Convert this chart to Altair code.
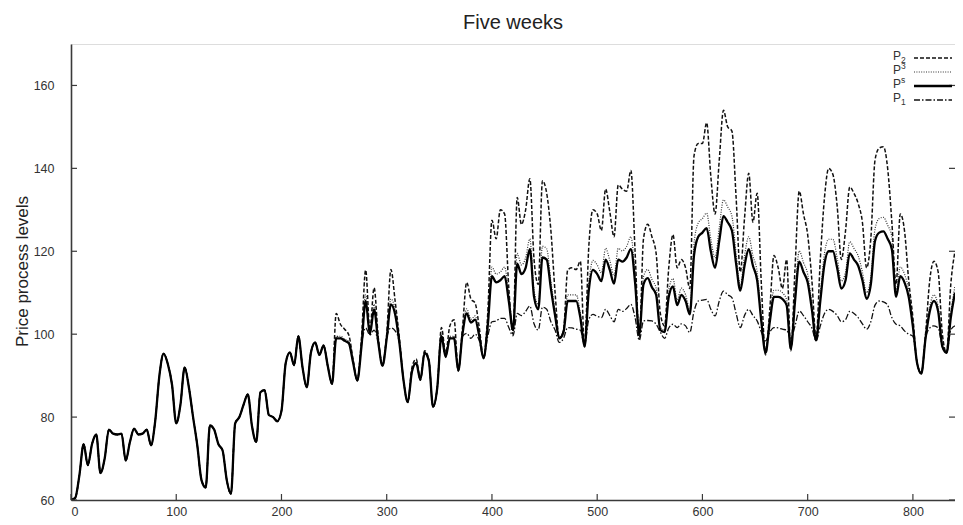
import altair as alt
import pandas as pd

# ---------------- data ----------------
# hourly index sampled every 4 hours, 0 .. 840 (five weeks)
hours = list(range(0, 841, 4))

# t = 0 .. 248 : all four processes coincide
shared_early = [
    60, 60.5, 66, 73.5, 68.4, 73.5, 75.8, 66.5, 70, 77,
    76, 75.8, 76, 69.5, 74, 77.2, 75.8, 76, 77, 73.2,
    79, 90, 95.3, 92.8, 87.8, 78.5, 83, 92, 87.2, 80,
    73.2, 64.8, 63, 78, 77, 73.5, 72, 64.8, 61.5, 78.5,
    80, 83, 85.5, 77.8, 74, 86, 86.5, 80.5, 80, 79,
    81.5, 93, 95.6, 92.5, 99.5, 92, 87.2, 95.6, 98, 95,
    97.3, 92.3, 88,
]

# t = 252 .. 840
ps_late = [
    99, 99, 98.4, 97.8, 93.2, 88.8, 97, 108, 100, 106,
    98, 92.4, 99, 107.2, 104.8, 98, 88.8, 83.6, 91, 93,
    89, 95.5, 93.6, 82.5, 87, 99.5, 94.5, 99, 99, 91.2,
    100, 105, 102.8, 103.5, 99.5, 94.2, 102, 114, 112.5, 113,
    114, 108, 101, 117, 114.5, 116, 120.5, 109, 106, 118.5,
    118, 111, 104.5, 99, 100.5, 108, 108, 108, 104, 97,
    110.5, 115.5, 114.5, 112.8, 118, 115.5, 112.2, 118, 117.5, 118.5,
    120.5, 112.5, 100, 112, 113.5, 111.3, 109.5, 101, 100.5, 109,
    111.5, 107, 109.5, 108, 104.8, 119, 123.5, 124.5, 125.6, 120,
    116, 122.5, 128.5, 127, 125, 117, 110.5, 116.5, 120.5, 116.5,
    113, 103, 95.5, 103, 109, 109, 108.5, 107, 96.5, 108,
    117.5, 115, 112.5, 106, 98.5, 108, 117, 120, 120, 116,
    111, 113, 119.5, 118, 116.5, 113, 108.5, 112, 122.5, 124.5,
    124.8, 123, 120.5, 109, 114, 112.5, 109, 101.8, 93, 90.5,
    99, 105.5, 108, 105.5, 97, 95.5, 104, 110,
]

p2_late = [
    105, 102.4, 101.2, 99.8, 94, 88.8, 99, 115.5, 101, 111.2,
    99.2, 92.4, 100, 115.6, 108, 99.2, 88.8, 83.6, 92, 94,
    89, 96, 94, 82.5, 87, 101.6, 95.5, 102, 103.5, 91.2,
    101.5, 112.5, 108.5, 107.5, 101.5, 94.2, 105, 127.5, 123, 130,
    129, 111.2, 100, 133, 126.5, 130, 137.5, 118, 112, 137,
    134, 125, 110, 99, 101, 115.5, 116, 115.6, 117.6, 97,
    121, 130, 129, 125, 135, 129.5, 123.5, 136, 135, 134.5,
    139.5, 120, 99, 123, 126.5, 123.5, 119.5, 105, 102, 116,
    124, 116, 118, 116, 111, 143, 146, 146, 151, 138,
    129, 142, 154, 150, 149, 133, 115, 128, 138.8, 127,
    134, 112, 95, 106, 119, 116, 111, 118, 96, 116,
    134.5, 129, 124, 113, 99, 118, 133, 140, 138.5, 131,
    118, 125, 135.5, 134, 131.5, 127, 116, 123, 142, 144.9,
    145.2, 140, 127, 112, 129, 125, 113, 104, 93, 90.5,
    100, 113, 117.6, 115, 100, 95.5, 112, 120,
]

p3_late = [
    99.5, 99.5, 98.8, 98.2, 93.4, 88.8, 97.3, 109.5, 100.5, 107.2,
    98.3, 92.5, 99.3, 108.5, 105.9, 98.3, 88.8, 83.6, 91.2, 93.2,
    89, 95.7, 93.8, 82.5, 87, 100, 94.7, 99.5, 99.5, 91.2,
    100.5, 106.1, 103.6, 104.4, 100, 94.3, 102.7, 116.2, 114.5, 115,
    116.2, 109.5, 101.6, 119.5, 116.7, 118.4, 123, 110.6, 107.2, 121.2,
    120.6, 112.8, 105.5, 99.2, 101, 109.5, 109.5, 109.5, 105, 97.2,
    112, 117.8, 116.7, 114.8, 120.7, 117.8, 114.1, 120.7, 120.1, 121.2,
    123.5, 114.5, 100.4, 113.9, 115.6, 113.2, 111.1, 101.6, 101, 110.6,
    113.4, 108.3, 111.1, 109.5, 105.9, 121.8, 126.8, 127.9, 129.2, 122.9,
    118.4, 125.7, 132.4, 130.7, 128.5, 119.5, 111.7, 118.9, 123.5, 118.9,
    115, 103.9, 95.6, 103.9, 110.6, 110.6, 110, 108.3, 96.6, 109.5,
    120.1, 117.3, 114.5, 107.2, 98.7, 109.5, 119.5, 122.9, 122.9, 118.4,
    112.8, 115, 122.3, 120.7, 118.9, 115, 110, 113.9, 125.4, 127.9,
    128.2, 126.3, 123.5, 110.6, 116.2, 114.5, 110.6, 102.5, 93, 90.5,
    99.2, 106.6, 109.5, 106.6, 97.2, 95.6, 105, 111.7,
]

p1_late = [
    99.5, 99.2, 98.6, 98, 93.5, 88.8, 97.5, 101.5, 99.8, 101,
    98, 92.4, 99.2, 101.5, 100.8, 98, 88.8, 83.6, 91, 93,
    89, 95.5, 93.6, 82.5, 87, 99.5, 94.5, 99.2, 99.3, 91.2,
    99.5, 100.2, 99, 100, 98.4, 94.2, 99.5, 103, 103.2, 103.8,
    103.8, 101.6, 99.6, 105, 104.5, 105.5, 106.8, 102.5, 101, 106.5,
    106, 103, 101, 98, 99, 101.6, 101.5, 101.2, 101, 97.5,
    103.5, 104.8, 104.3, 104, 106, 104.5, 103, 106, 105.5, 106.2,
    107.2, 104, 98.5, 103.2, 103.3, 103.2, 102.4, 100.5, 99, 101.5,
    102.4, 101.6, 102.5, 102, 100.4, 105.5, 108, 108.2, 108.4, 106,
    104.4, 108, 110.4, 109.5, 108.8, 105, 101.6, 104.5, 106, 104.5,
    103.2, 100.5, 98.4, 100.5, 101.6, 101.5, 101.2, 101, 99, 102,
    105.6, 104.5, 103, 101.5, 98.4, 102, 105, 106, 105.5, 104.5,
    103, 103.5, 105.5, 105, 104, 102.5, 101.2, 103, 107, 108,
    107.8, 107, 104, 102.4, 102, 100.8, 100, 99.5, 93, 90.5,
    99, 101.5, 102, 101.5, 97, 95.5, 101, 102,
]

x_ticks = [0, 100, 200, 300, 400, 500, 600, 700, 800]
y_ticks = [60, 80, 100, 120, 140, 160]
legend_index = ["2", "3", "s", "1"]

# ---------------- chart ----------------
W, H = 884, 456
LABEL_FONT = "Liberation Sans Narrow, Liberation Sans, Arial, sans-serif"
AX = "#3a3a3a"

xs = alt.Scale(domain=[0, 840], nice=False, zero=False)
ys = alt.Scale(domain=[60, 170], nice=False, zero=False)
x_axis = alt.Axis(values=x_ticks, tickSize=0, labelPadding=5, grid=False, title=None,
                  domainColor=AX, domainWidth=1.6, labelFont=LABEL_FONT,
                  labelFontSize=12.5, labelColor="#333")
y_axis = alt.Axis(values=y_ticks, tickSize=0, labelPadding=17, grid=False,
                  title="Price process levels", titleFont="Liberation Sans",
                  titleFontSize=17, titleFontWeight="normal", titleColor="#222",
                  titleAngle=270, titleAlign="center", titleBaseline="alphabetic",
                  titleX=-44, titleY=227, domainColor=AX, domainWidth=1.6,
                  labelFont=LABEL_FONT, labelFontSize=12.5, labelColor="#333")

X = alt.X("hour:Q", scale=xs, axis=x_axis)
Y = alt.Y("price:Q", scale=ys, axis=y_axis)


def series_layer(values, dash, width, color):
    df = pd.DataFrame({"hour": hours, "price": shared_early + values})
    props = dict(color=color, strokeWidth=width, clip=True, strokeCap="butt",
                 interpolate="monotone")
    if dash:
        props["strokeDash"] = dash
    return alt.Chart(df).mark_line(**props).encode(x=X, y=Y)


styles = {
    "2": ([4, 2], 1.5, "#111"),
    "3": ([1, 1.4], 1.2, "#333"),
    "s": (None, 2.3, "#000"),
    "1": ([6, 2, 1.5, 2], 1.3, "#111"),
}

layers = [
    series_layer(p1_late, *styles["1"]),
    series_layer(p3_late, *styles["3"]),
    series_layer(p2_late, *styles["2"]),
    series_layer(ps_late, *styles["s"]),
]

# inward tick marks
xt = pd.DataFrame({"hour": x_ticks})
yt = pd.DataFrame({"price": y_ticks})
layers.append(alt.Chart(xt).mark_rule(color=AX, strokeWidth=1.2).encode(
    x=X, y=alt.value(H), y2=alt.value(H - 6)))
layers.append(alt.Chart(yt).mark_rule(color=AX, strokeWidth=1.2).encode(
    y=Y, x=alt.value(0), x2=alt.value(6)))
layers.append(alt.Chart(yt).mark_rule(color=AX, strokeWidth=1.2).encode(
    y=Y, x=alt.value(W - 6), x2=alt.value(W)))

# legend (top right)
row_y = [12, 26, 40, 54]
idx_dy = {"2": 4, "3": -4.5, "s": -4.5, "1": 4}
for i, idx in enumerate(legend_index):
    ldf = pd.DataFrame({"base": ["P"], "idx": [idx]})
    dash, width, color = styles[idx]
    layers.append(alt.Chart(ldf).mark_text(
        align="left", baseline="middle", font=LABEL_FONT, fontSize=12, color="#333"
    ).encode(x=alt.value(822), y=alt.value(row_y[i]), text="base:N"))
    layers.append(alt.Chart(ldf).mark_text(
        align="left", baseline="middle", font=LABEL_FONT, fontSize=8.5, color="#333"
    ).encode(x=alt.value(830), y=alt.value(row_y[i] + idx_dy[idx]), text="idx:N"))
    rprops = dict(color=color, strokeWidth=width, strokeCap="butt")
    if dash:
        rprops["strokeDash"] = dash
    layers.append(alt.Chart(ldf).mark_rule(**rprops).encode(
        x=alt.value(843), x2=alt.value(881), y=alt.value(row_y[i] + 2)))

chart = alt.layer(*layers).properties(
    width=W, height=H,
    title=alt.TitleParams("Five weeks", font="Liberation Sans", fontSize=20,
                          fontWeight="normal", color="#222", anchor="middle", offset=11),
    autosize=alt.AutoSizeParams(type="none"),
    padding={"left": 63, "top": 36, "right": 0, "bottom": 17},
).configure_view(stroke=None).configure(background="white")

chart.save("out.html", embed_options={"renderer": "svg", "actions": False})
